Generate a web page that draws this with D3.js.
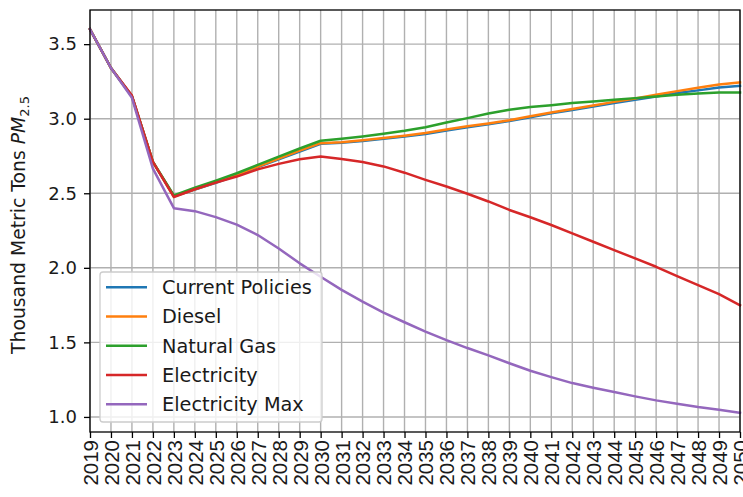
<!DOCTYPE html>
<html>
<head>
<meta charset="utf-8">
<script src="https://cdn.jsdelivr.net/npm/d3@7"></script>
<style>
  html, body { margin: 0; padding: 0; background: #fff; }
  svg { display: block; font-family: "DejaVu Sans", sans-serif; }
</style>
</head>
<body>
<svg id="chart" width="743" height="497"></svg>
<script>
const years = d3.range(2019, 2051);
const seriesNames = ["Current Policies", "Diesel", "Natural Gas", "Electricity", "Electricity Max"];
const seriesColors = ["#1f77b4", "#ff7f0e", "#2ca02c", "#d62728", "#9467bd"];

const currentPolicies = [3.60, 3.34, 3.15, 2.71, 2.48, 2.525, 2.57, 2.62, 2.675, 2.728, 2.78, 2.832,
  2.838, 2.85, 2.865, 2.88, 2.898, 2.92, 2.942, 2.962, 2.984, 3.01, 3.036, 3.058, 3.082, 3.105,
  3.127, 3.149, 3.172, 3.19, 3.21, 3.22];
const diesel = [3.60, 3.34, 3.15, 2.71, 2.48, 2.527, 2.574, 2.623, 2.679, 2.732, 2.786, 2.836,
  2.842, 2.855, 2.87, 2.886, 2.904, 2.927, 2.949, 2.968, 2.99, 3.016, 3.042, 3.065, 3.088, 3.113,
  3.136, 3.16, 3.185, 3.208, 3.23, 3.243];
const naturalGas = [3.60, 3.34, 3.15, 2.71, 2.485, 2.538, 2.585, 2.634, 2.69, 2.746, 2.80, 2.852,
  2.866, 2.881, 2.899, 2.919, 2.943, 2.974, 3.004, 3.035, 3.06, 3.078, 3.091, 3.105, 3.116, 3.127,
  3.138, 3.149, 3.16, 3.169, 3.176, 3.176];
const electricity = [3.60, 3.34, 3.155, 2.71, 2.475, 2.527, 2.571, 2.612, 2.66, 2.697, 2.728, 2.746,
  2.73, 2.71, 2.68, 2.638, 2.59, 2.545, 2.497, 2.445, 2.388, 2.339, 2.287, 2.231, 2.175, 2.119,
  2.063, 2.007, 1.944, 1.884, 1.823, 1.749];
const electricityMax = [3.60, 3.34, 3.14, 2.665, 2.40, 2.38, 2.34, 2.29, 2.22, 2.13, 2.03, 1.94,
  1.852, 1.773, 1.70, 1.635, 1.572, 1.515, 1.462, 1.413, 1.36, 1.31, 1.267, 1.227, 1.196, 1.167,
  1.138, 1.111, 1.089, 1.066, 1.048, 1.028];
const yTicks = [1.0, 1.5, 2.0, 2.5, 3.0, 3.5];

const allSeries = [currentPolicies, diesel, naturalGas, electricity, electricityMax];

const svg = d3.select("#chart");
const M = { left: 90, right: 740, top: 10, bottom: 432 };

const x = d3.scaleLinear().domain([2019, 2050]).range([M.left, M.right]);
const y = d3.scaleLinear().domain([0.899, 3.729]).range([M.bottom, M.top]);

// grid
const grid = svg.append("g");
grid.selectAll("line.vx").data(years).enter().append("line")
  .attr("x1", d => x(d)).attr("x2", d => x(d))
  .attr("y1", M.top).attr("y2", M.bottom)
  .attr("stroke", "#b0b0b0").attr("stroke-width", 1.4);
grid.selectAll("line.hy").data(yTicks).enter().append("line")
  .attr("x1", M.left).attr("x2", M.right)
  .attr("y1", d => y(d)).attr("y2", d => y(d))
  .attr("stroke", "#b0b0b0").attr("stroke-width", 1.4);

// lines
const line = d3.line().x((d, i) => x(years[i])).y(d => y(d));
allSeries.forEach((s, k) => {
  svg.append("path").datum(s)
    .attr("d", line)
    .attr("fill", "none")
    .attr("stroke", seriesColors[k])
    .attr("stroke-width", 2.5)
    .attr("stroke-linejoin", "round")
    .attr("stroke-linecap", "square");
});

// axes
const xAxis = d3.axisBottom(x).tickValues(years).tickFormat(d3.format("d")).tickSize(6).tickPadding(4);
const gx = svg.append("g").attr("transform", `translate(0,${M.bottom})`).call(xAxis);
gx.select(".domain").remove();
gx.selectAll(".tick line").attr("stroke", "#000").attr("stroke-width", 1.3);
gx.selectAll(".tick text")
  .attr("font-size", 20.5)
  .attr("fill", "#1a1a1a")
  .attr("transform", "rotate(-90)")
  .attr("text-anchor", "end")
  .attr("x", -8).attr("y", 0).attr("dy", "0.36em");

const yAxis = d3.axisLeft(y).tickValues(yTicks).tickFormat(d3.format(".1f")).tickSize(6).tickPadding(7);
const gy = svg.append("g").attr("transform", `translate(${M.left},0)`).call(yAxis);
gy.select(".domain").remove();
gy.selectAll(".tick line").attr("stroke", "#000").attr("stroke-width", 1.3);
gy.selectAll(".tick text").attr("font-size", 18).attr("fill", "#1a1a1a").attr("font-family", "DejaVu Sans");

// frame
svg.append("rect")
  .attr("x", M.left).attr("y", M.top)
  .attr("width", M.right - M.left).attr("height", M.bottom - M.top)
  .attr("fill", "none").attr("stroke", "#000").attr("stroke-width", 1.3);

// y label
const yl = svg.append("text")
  .attr("transform", `translate(25,${(M.top + M.bottom) / 2 + 4}) rotate(-90)`)
  .attr("text-anchor", "middle")
  .attr("font-size", 18.8)
  .attr("fill", "#1a1a1a");
yl.append("tspan").text("Thousand Metric Tons ");
yl.append("tspan").attr("font-style", "italic").text("PM");
yl.append("tspan").attr("font-size", 13).attr("dy", 4).text("2.5");

// legend
const lg = svg.append("g");
lg.append("rect")
  .attr("x", 100).attr("y", 272).attr("width", 222).attr("height", 150)
  .attr("rx", 3).attr("ry", 3)
  .attr("fill", "#fff").attr("fill-opacity", 0.8)
  .attr("stroke", "#cccccc").attr("stroke-width", 1.3);
seriesNames.forEach((name, i) => {
  const cy = 287.3 + i * 29.25;
  lg.append("line")
    .attr("x1", 106).attr("x2", 147)
    .attr("y1", cy).attr("y2", cy)
    .attr("stroke", seriesColors[i]).attr("stroke-width", 2.6);
  lg.append("text")
    .attr("x", 162).attr("y", cy).attr("dy", "0.36em")
    .attr("font-size", 19.3)
    .attr("fill", "#1a1a1a")
    .text(name);
});
</script>
</body>
</html>
